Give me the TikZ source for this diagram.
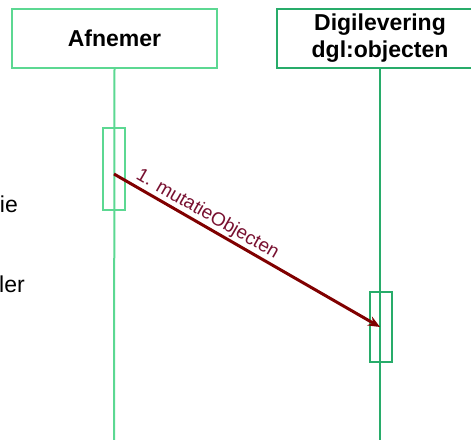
\documentclass[tikz,border=0pt]{standalone}
\usepackage{fontspec}
\setmainfont{Liberation Sans}
\usetikzlibrary{arrows.meta}
\definecolor{lgreen}{RGB}{92,216,146}
\definecolor{dgreen}{RGB}{40,172,106}
\definecolor{msgred}{RGB}{128,0,0}
\definecolor{lblred}{RGB}{120,16,48}
\begin{document}
\begin{tikzpicture}[x=1pt,y=-1pt,
  headbox/.style={draw, line width=2pt, minimum height=59pt, inner sep=0pt,
    align=center, font=\fontsize{23}{27}\selectfont\bfseries},
  actbox/.style={draw, line width=2pt, minimum width=22pt, inner sep=0pt},
  lifeline/.style={line width=2pt},
  msg/.style={draw=msgred, line width=3pt, -{Stealth[length=12pt,width=10pt]}},
  msglabel/.style={text=lblred, font=\fontsize{19}{22}\selectfont, inner sep=1pt},
  sidetext/.style={font=\fontsize{23}{26}\selectfont, anchor=base east, inner sep=0pt}]
\useasboundingbox (0,0) rectangle (471,439);
\clip (0,0) rectangle (471,439);
% headers
\node[headbox, draw=lgreen, minimum width=205pt] (afn) at (114.5,38.5) {Afnemer};
\node[headbox, draw=dgreen, minimum width=206pt] (dgl) at (380,38.5) {Digilevering\\dgl:objecten};
% lifeline ends
\coordinate (afnEnd) at (114,445);
\coordinate (dglEnd) at (380,445);
\draw[lifeline, lgreen] (afn.south) -- (afnEnd);
\draw[lifeline, dgreen] (dgl.south) -- (dglEnd);
% activations
\node[actbox, draw=lgreen, minimum height=82pt] (act1) at (114,169) {};
\node[actbox, draw=dgreen, minimum height=70pt] (act2) at (380.5,327) {};
% message
\coordinate (m1s) at (114,174);
\coordinate (m1e) at (380,327);
\draw[msg] (m1s) -- node[msglabel, pos=0.33, above, sloped] (m1lbl) {1. mutatieObjecten} (m1e);
% side texts
\node[sidetext] (t1) at (18,212) {ie};
\node[sidetext] (t2) at (25,292) {ler};
\end{tikzpicture}
\end{document}
